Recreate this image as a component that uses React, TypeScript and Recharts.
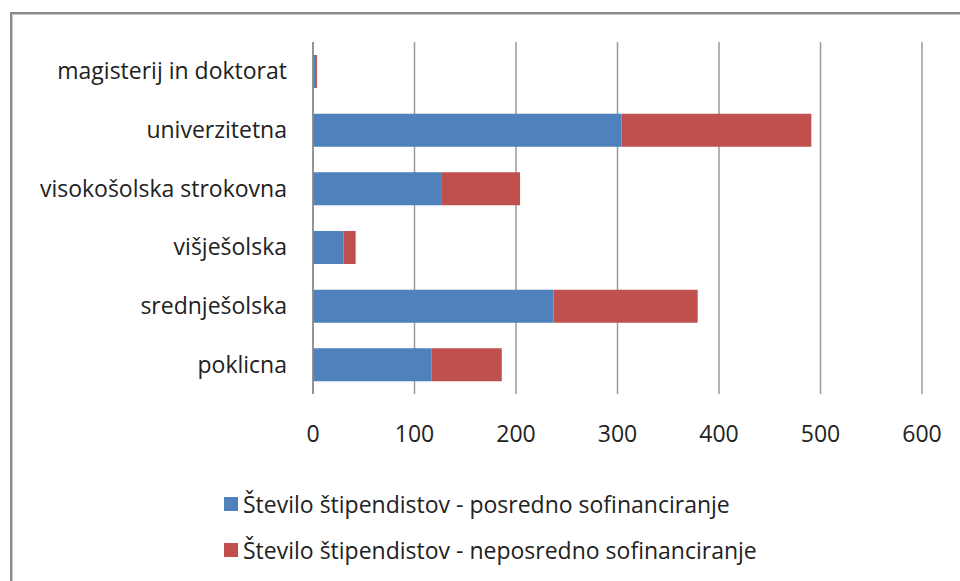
import React from 'react';
import { BarChart, Bar, XAxis, YAxis, CartesianGrid, Legend } from 'recharts';

const categories = [
  'magisterij in doktorat',
  'univerzitetna',
  'visokošolska strokovna',
  'višješolska',
  'srednješolska',
  'poklicna',
];
const posredno = [3, 304, 127, 30, 237, 117];
const neposredno = [1, 187, 77, 12, 142, 69];
const xTicks = [0, 100, 200, 300, 400, 500, 600];

const SERIES = [
  { key: 'posredno', name: 'Število štipendistov - posredno sofinanciranje', color: '#4F81BD' },
  { key: 'neposredno', name: 'Število štipendistov - neposredno sofinanciranje', color: '#C0504D' },
];

const FONT = '"Open Sans", Lato, sans-serif';

const data = categories.map((cat, i) => ({
  cat,
  posredno: posredno[i],
  neposredno: neposredno[i],
}));

function LegendBox() {
  return (
    <div style={{ height: 90, paddingLeft: 224, fontFamily: FONT, fontSize: 23, color: '#222' }}>
      {SERIES.map((s, i) => (
        <div key={s.key} style={{ display: 'flex', alignItems: 'center', height: 46, marginTop: i === 0 ? 11 : 0 }}>
          <span style={{ display: 'inline-block', width: 14, height: 14, background: s.color, marginRight: 5 }} />
          <span>{s.name}</span>
        </div>
      ))}
    </div>
  );
}

export default function App() {
  return (
    <div style={{ position: 'absolute', left: 0, top: 0, width: 960, height: 581, background: '#fff', overflow: 'hidden' }}>
      <div
        style={{
          position: 'absolute', left: 10, top: 12, width: 980, height: 600,
          borderLeft: '2px solid #8a8a8a', borderTop: '2px solid #8a8a8a',
          boxShadow: 'inset 1px 1px 0 #c8c8c8',
        }}
      />
      <div style={{ position: 'absolute', left: 0, top: 0 }}>
        <BarChart
          width={960}
          height={581}
          data={data}
          layout="vertical"
          barSize={33}
          margin={{ top: 42, right: 38, left: 0, bottom: 10 }}
        >
          <CartesianGrid horizontal={false} vertical stroke="#9a9a9a" strokeWidth={1.5} />
          <XAxis
            type="number"
            domain={[0, 600]}
            ticks={xTicks}
            axisLine={false}
            tickLine={false}
            tickSize={0}
            tickMargin={32}
            height={76}
            tick={{ fontSize: 23, fill: '#222', fontFamily: FONT }}
          />
          <YAxis
            type="category"
            dataKey="cat"
            width={313}
            axisLine={{ stroke: '#8a8a8a', strokeWidth: 1.5 }}
            tickLine={false}
            tickSize={0}
            tickMargin={26}
            tick={{ fontSize: 23, fill: '#222', fontFamily: FONT }}
          />
          <Legend verticalAlign="bottom" align="left" content={<LegendBox />} />
          {SERIES.map((s) => (
            <Bar key={s.key} dataKey={s.key} name={s.name} stackId="a" fill={s.color} isAnimationActive={false} />
          ))}
        </BarChart>
      </div>
    </div>
  );
}
